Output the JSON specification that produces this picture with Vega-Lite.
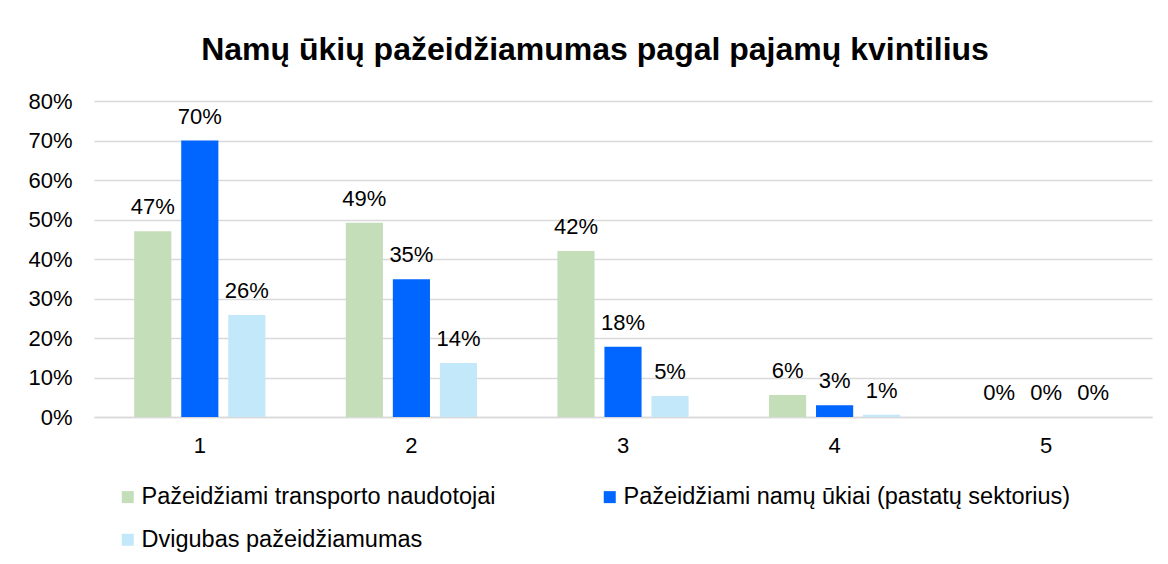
{
  "$schema": "https://vega.github.io/schema/vega-lite/v6.json",
  "width": 1058,
  "height": 316,
  "autosize": {"type": "none"},
  "padding": {"left": 94, "top": 101, "right": 16, "bottom": 147},
  "background": "#ffffff",
  "config": {
    "font": "Liberation Sans",
    "view": {"stroke": null},
    "axis": {"labelFont": "Liberation Sans", "labelColor": "#000000", "labelFontSize": 22},
    "legend": {"labelFont": "Liberation Sans"}
  },
  "title": {
    "text": "Namų ūkių pažeidžiamumas pagal pajamų kvintilius",
    "font": "Liberation Sans",
    "fontSize": 32,
    "fontWeight": "bold",
    "color": "#000000",
    "anchor": "middle",
    "frame": "group",
    "dx": -28,
    "offset": 23
  },
  "data": {
    "values": [
      {"kvintilis": "1", "serija": "Pažeidžiami transporto naudotojai", "reiksme": 0.47},
      {"kvintilis": "1", "serija": "Pažeidžiami namų ūkiai (pastatų sektorius)", "reiksme": 0.70},
      {"kvintilis": "1", "serija": "Dvigubas pažeidžiamumas", "reiksme": 0.258},
      {"kvintilis": "2", "serija": "Pažeidžiami transporto naudotojai", "reiksme": 0.492},
      {"kvintilis": "2", "serija": "Pažeidžiami namų ūkiai (pastatų sektorius)", "reiksme": 0.349},
      {"kvintilis": "2", "serija": "Dvigubas pažeidžiamumas", "reiksme": 0.137},
      {"kvintilis": "3", "serija": "Pažeidžiami transporto naudotojai", "reiksme": 0.42},
      {"kvintilis": "3", "serija": "Pažeidžiami namų ūkiai (pastatų sektorius)", "reiksme": 0.178},
      {"kvintilis": "3", "serija": "Dvigubas pažeidžiamumas", "reiksme": 0.053},
      {"kvintilis": "4", "serija": "Pažeidžiami transporto naudotojai", "reiksme": 0.056},
      {"kvintilis": "4", "serija": "Pažeidžiami namų ūkiai (pastatų sektorius)", "reiksme": 0.03},
      {"kvintilis": "4", "serija": "Dvigubas pažeidžiamumas", "reiksme": 0.006},
      {"kvintilis": "5", "serija": "Pažeidžiami transporto naudotojai", "reiksme": 0.0},
      {"kvintilis": "5", "serija": "Pažeidžiami namų ūkiai (pastatų sektorius)", "reiksme": 0.0},
      {"kvintilis": "5", "serija": "Dvigubas pažeidžiamumas", "reiksme": 0.0}
    ]
  },
  "encoding": {
    "x": {
      "field": "kvintilis",
      "type": "nominal",
      "scale": {"paddingInner": 0.38, "paddingOuter": 0.19},
      "axis": {
        "title": null,
        "labelAngle": 0,
        "ticks": false,
        "tickSize": 0,
        "labelPadding": 18,
        "domainColor": "#d9d9d9",
        "domainWidth": 1.5
      }
    },
    "xOffset": {
      "field": "serija",
      "type": "nominal",
      "sort": ["Pažeidžiami transporto naudotojai", "Pažeidžiami namų ūkiai (pastatų sektorius)", "Dvigubas pažeidžiamumas"],
      "scale": {"paddingInner": 0.21, "paddingOuter": 0}
    },
    "y": {
      "field": "reiksme",
      "type": "quantitative",
      "scale": {"domain": [0, 0.8], "nice": false},
      "axis": {
        "title": null,
        "format": ".0%",
        "values": [0, 0.1, 0.2, 0.3, 0.4, 0.5, 0.6, 0.7, 0.8],
        "domain": false,
        "ticks": false,
        "tickSize": 0,
        "labelPadding": 22,
        "gridColor": "#d9d9d9",
        "gridWidth": 1.5
      }
    }
  },
  "layer": [
    {
      "mark": {"type": "bar"},
      "encoding": {
        "color": {
          "field": "serija",
          "type": "nominal",
          "scale": {
            "domain": ["Pažeidžiami transporto naudotojai", "Pažeidžiami namų ūkiai (pastatų sektorius)", "Dvigubas pažeidžiamumas"],
            "range": ["#c4deb9", "#0066ff", "#c3e8fa"]
          },
          "legend": {
            "title": null,
            "orient": "none",
            "direction": "horizontal",
            "columns": 2,
            "legendX": 22,
            "legendY": 384,
            "labelFontSize": 23.5,
            "labelColor": "#000000",
            "labelLimit": 600,
            "labelOffset": 2,
            "symbolType": "square",
            "symbolSize": 144,
            "symbolStrokeWidth": 0,
            "columnPadding": 102,
            "rowPadding": 18
          }
        }
      }
    },
    {
      "mark": {"type": "text", "fontSize": 22, "color": "#000000", "baseline": "alphabetic", "dy": -17},
      "encoding": {
        "text": {"field": "reiksme", "type": "quantitative", "format": ".0%"}
      }
    }
  ]
}
